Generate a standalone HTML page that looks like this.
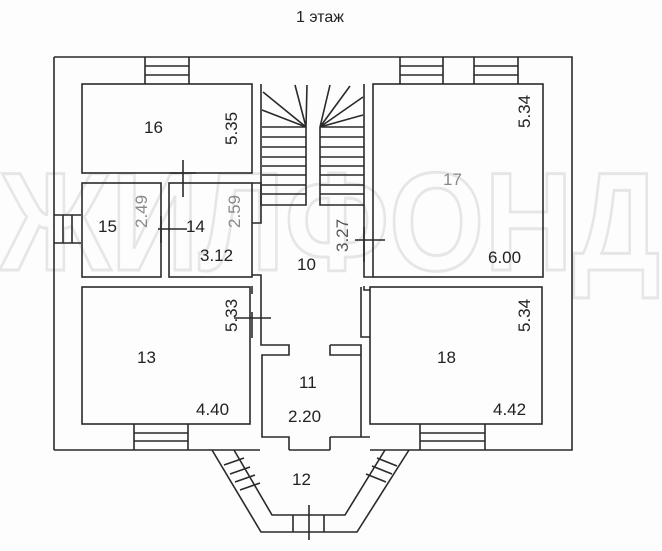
<!DOCTYPE html>
<html><head><meta charset="utf-8"><style>
html,body{margin:0;padding:0;background:#fff}
svg{display:block}
text{font-family:"Liberation Sans",sans-serif}
</style></head><body>
<svg width="662" height="551" viewBox="0 0 662 551" xmlns="http://www.w3.org/2000/svg">
<rect width="662" height="551" fill="#fdfdfd"/>
<!-- watermark -->
<text x="0" y="270" font-size="140" font-weight="bold" style="fill:none;stroke:#e6e6e6;stroke-width:3" textLength="660" lengthAdjust="spacingAndGlyphs">ЖИЛФОНД</text>
<text x="320" y="22" font-size="16" text-anchor="middle" fill="#222">1 этаж</text>
<g fill="none" stroke="#2a2a2a" stroke-width="1.6">
<path d="M54 57 H572 V450 H370 M330 450 H289 M260 450 H54 Z"/>
<path d="M54 57 V450"/>
<rect x="82" y="84" width="170" height="89"/>
<rect x="82" y="183" width="79" height="94"/>
<rect x="169" y="183" width="83" height="94"/>
<path d="M252 183 H261 V223 H252"/>
<path d="M252 275 H261 V345 H289 V355 H262 V437 H289 V450"/>
<path d="M252 286 V294 M252 312 V338"/>
<path d="M261 84 V205 H306 V127 M364 84 V205 H320 V127 M306 127 H262 M320 127 H364"/>
<path d="M262 137H306M262 147H306M262 157H306M262 166H306M262 175H306M262 185H306M262 194H306M320 137H364M320 147H364M320 157H364M320 166H364M320 175H364M320 185H364M320 194H364"/>
<path d="M306 127 L262 110 M306 127 L263 92 M306 127 L295 85 M306 127 L307 85 M320 127 L330 85 M320 127 L350 86 M320 127 L363 97 M320 127 L363 115"/>
<rect x="373" y="84" width="170" height="193"/>
<path d="M364 205 V277 H373 M364 286 V290 H370"/>
<rect x="82" y="287" width="168" height="137"/>
<rect x="370" y="287" width="172" height="137"/>
<path d="M361 287 V337 H370 M330 345 H361 V437 H370 M330 345 V355 H361 M330 437 V450 M330 437 H361"/>
<path d="M145 57 V84 M189 57 V84 M145 66 H189 M145 75 H189"/>
<path d="M400 57 V84 M443 57 V84 M400 66 H443 M400 75 H443"/>
<path d="M474 57 V84 M518 57 V84 M474 66 H518 M474 75 H518"/>
<path d="M54 215 H81 M54 243 H81 M63 215 V243 M72 215 V243"/>
<path d="M134 424 V450 M188 424 V450 M134 433 H188 M134 441 H188"/>
<path d="M420 424 V450 M485 424 V450 M420 433 H485 M420 441 H485"/>
<path d="M183 160 V197 M170 173 H196"/>
<path d="M161 216 V243 M158 229 H187"/>
<path d="M234 318 H271"/>
<path d="M355 240 H385 M364 227 V262"/>
<path d="M212 450 L261 532 H357 L409 450"/>
<path d="M234 450 L272 515 H345 L385 450"/>
<path d="M224 465 L244 458 M230 474 L250 467 M235 482 L255 475 M240 490 L260 483"/>
<path d="M366 474 L386 482 M372 466 L392 474 M377 458 L397 466"/>
<path d="M293 515 V532 M324 515 V532 M309 505 V540"/>
</g>
<g font-size="17" fill="#222">
<text x="144" y="133">16</text>
<text x="98" y="232">15</text>
<text x="186" y="232">14</text>
<text x="200" y="261">3.12</text>
<text x="297" y="270">10</text>
<text x="443" y="185" fill="#888">17</text>
<text x="488" y="263">6.00</text>
<text x="137" y="363">13</text>
<text x="437" y="363">18</text>
<text x="299" y="388">11</text>
<text x="196" y="415">4.40</text>
<text x="288" y="422">2.20</text>
<text x="493" y="415">4.42</text>
<text x="292" y="485">12</text>
<text transform="translate(237,145) rotate(-90)">5.35</text>
<text transform="translate(530,128) rotate(-90)">5.34</text>
<text transform="translate(147,228) rotate(-90)" fill="#888">2.49</text>
<text transform="translate(240,228) rotate(-90)" fill="#888">2.59</text>
<text transform="translate(348,252) rotate(-90)" fill="#555">3.27</text>
<text transform="translate(237,332) rotate(-90)">5.33</text>
<text transform="translate(530,332) rotate(-90)">5.34</text>
</g>
</svg>
</body></html>
